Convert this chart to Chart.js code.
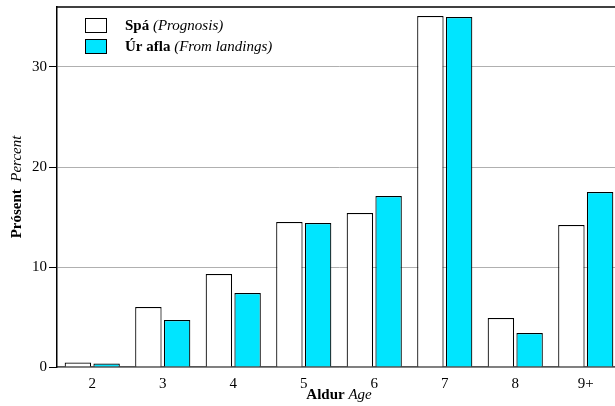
<!DOCTYPE html>
<html lang="is">
<head>
<meta charset="UTF-8">
<title>Aldursdreifing</title>
<style>
    html, body {
        margin: 0;
        padding: 0;
        background: #fff;
        overflow: hidden;
    }
    #wrap {
        position: relative;
        width: 621px;
        height: 406px;
    }
</style>
</head>
<body>
<div id="wrap"><canvas id="chart"></canvas></div>

<script src="https://cdn.jsdelivr.net/npm/chart.js"></script>
<script>
    // gögn lesin af myndinni
    const categories = ['2', '3', '4', '5', '6', '7', '8', '9+'];
    const spa = [0.45, 6.0, 9.3, 14.5, 15.4, 35.1, 4.9, 14.2];
    const urAfla = [0.35, 4.7, 7.4, 14.4, 17.1, 35.0, 3.4, 17.5];
    const yTicks = [0, 10, 20, 30];

    const serif = '"Liberation Serif", "Times New Roman", serif';

    // draw text made of bold + italic pieces
    function drawParts(ctx, parts, x, y) {
        let cx = x;
        parts.forEach(p => {
            ctx.font = p.font;
            ctx.fillText(p.text, cx, y);
            cx += ctx.measureText(p.text).width;
        });
    }
    function partsWidth(ctx, parts) {
        let w = 0;
        parts.forEach(p => { ctx.font = p.font; w += ctx.measureText(p.text).width; });
        return w;
    }

    const extras = {
        id: 'extras',
        afterDraw(chart) {
            const ctx = chart.ctx;
            const a = chart.chartArea;
            ctx.save();

            // top frame line
            ctx.strokeStyle = '#000';
            ctx.lineWidth = 1.5;
            ctx.beginPath();
            ctx.moveTo(a.left, a.top);
            ctx.lineTo(a.right, a.top);
            ctx.stroke();

            // legend
            const items = [
                { color: '#ffffff', parts: [{ text: 'Spá ', font: 'bold 15px ' + serif }, { text: '(Prognosis)', font: 'italic 15px ' + serif }] },
                { color: '#00e5ff', parts: [{ text: 'Úr afla ', font: 'bold 15px ' + serif }, { text: '(From landings)', font: 'italic 15px ' + serif }] }
            ];
            ctx.textBaseline = 'alphabetic';
            ctx.textAlign = 'left';
            items.forEach((it, i) => {
                const by = 18.5 + i * 21;
                ctx.fillStyle = it.color;
                ctx.fillRect(85.5, by, 21, 14);
                ctx.strokeStyle = '#000';
                ctx.lineWidth = 1;
                ctx.strokeRect(85.5, by, 21, 14);
                ctx.fillStyle = '#000';
                drawParts(ctx, it.parts, 125, by + 11.5);
            });

            // x title
            const xt = [{ text: 'Aldur ', font: 'bold 15px ' + serif }, { text: 'Age', font: 'italic 15px ' + serif }];
            const xw = partsWidth(ctx, xt);
            drawParts(ctx, xt, (a.left + a.right) / 2 - xw / 2, 399);

            // y title
            const yt = [{ text: 'Prósent  ', font: 'bold 15px ' + serif }, { text: 'Percent', font: 'italic 15px ' + serif }];
            const yw = partsWidth(ctx, yt);
            ctx.translate(21, (a.top + a.bottom) / 2 + yw / 2);
            ctx.rotate(-Math.PI / 2);
            drawParts(ctx, yt, 0, 0);

            ctx.restore();
        }
    };

    new Chart(document.getElementById('chart'), {
        type: 'bar',
        data: {
            labels: categories,
            datasets: [
                {
                    label: 'Spá (Prognosis)',
                    data: spa,
                    backgroundColor: '#ffffff',
                    borderColor: '#000',
                    borderWidth: 1.2
                },
                {
                    label: 'Úr afla (From landings)',
                    data: urAfla,
                    backgroundColor: '#00e5ff',
                    borderColor: '#000',
                    borderWidth: 1.2
                }
            ]
        },
        options: {
            responsive: true,
            maintainAspectRatio: false,
            animation: false,
            categoryPercentage: 0.815,
            barPercentage: 0.92,
            layout: { padding: { top: 7, left: 0, right: 0, bottom: 0 } },
            plugins: {
                legend: { display: false },
                tooltip: { enabled: false }
            },
            scales: {
                x: {
                    grid: { display: false, drawTicks: false },
                    border: { display: true, color: '#555', width: 1.5 },
                    ticks: {
                        color: '#000',
                        padding: 8,
                        font: { family: serif, size: 15 }
                    },
                    afterFit(scale) {
                        scale.height = 39;
                        scale.paddingLeft = 0;
                        scale.paddingRight = 0;
                    }
                },
                y: {
                    min: 0,
                    max: 36,
                    grid: { color: '#b0b0b0', lineWidth: 1, tickLength: 8, tickColor: '#000' },
                    border: { display: true, color: '#000', width: 1.5 },
                    ticks: {
                        color: '#000',
                        padding: 2,
                        font: { family: serif, size: 15 }
                    },
                    afterBuildTicks(scale) {
                        scale.ticks = yTicks.map(v => ({ value: v }));
                    },
                    afterFit(scale) {
                        scale.width = 57;
                        scale.paddingTop = 0;
                        scale.paddingBottom = 0;
                    }
                }
            }
        },
        plugins: [extras]
    });
</script>
</body>
</html>
